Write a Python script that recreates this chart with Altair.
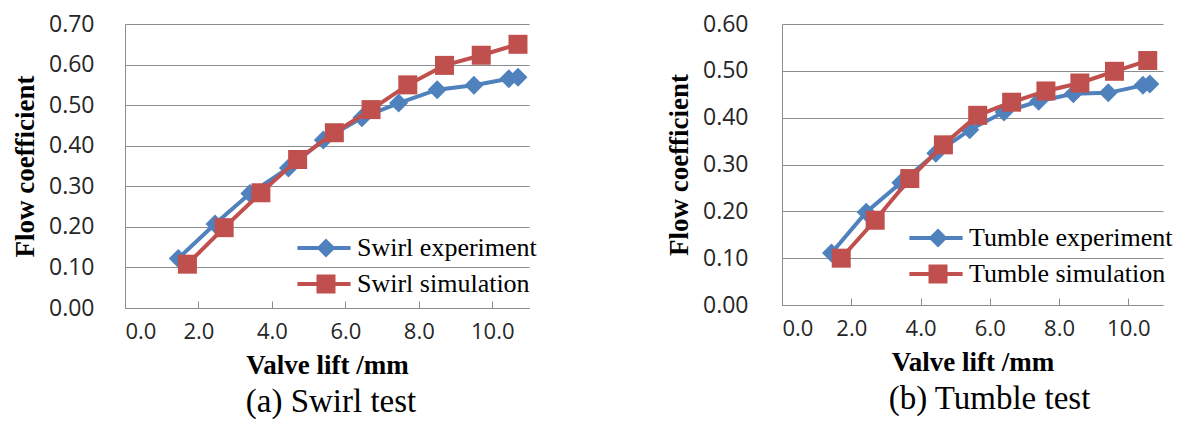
import altair as alt
import pandas as pd

# ---- data ----
swirl_names = ["Swirl experiment", "Swirl simulation"]
swirl_exp_x = [1.45, 2.45, 3.4, 4.45, 5.4, 6.45, 7.45, 8.5, 9.5, 10.45, 10.7]
swirl_exp_y = [0.122, 0.207, 0.282, 0.345, 0.414, 0.469, 0.505, 0.538, 0.549, 0.565, 0.569]
swirl_sim_x = [1.7, 2.7, 3.7, 4.7, 5.7, 6.7, 7.7, 8.7, 9.7, 10.7]
swirl_sim_y = [0.108, 0.198, 0.284, 0.366, 0.432, 0.489, 0.550, 0.598, 0.623, 0.650]

tumble_names = ["Tumble experiment", "Tumble simulation"]
tumble_exp_x = [1.43, 2.43, 3.43, 4.44, 5.42, 6.41, 7.41, 8.41, 9.42, 10.42, 10.62]
tumble_exp_y = [0.111, 0.198, 0.261, 0.324, 0.374, 0.412, 0.435, 0.451, 0.453, 0.469, 0.472]
tumble_sim_x = [1.71, 2.69, 3.69, 4.66, 5.65, 6.63, 7.62, 8.6, 9.6, 10.56]
tumble_sim_y = [0.100, 0.181, 0.270, 0.342, 0.405, 0.433, 0.457, 0.474, 0.499, 0.522]

x_ticks = [0, 2, 4, 6, 8, 10]
swirl_y_ticks = [0.0, 0.1, 0.2, 0.3, 0.4, 0.5, 0.6, 0.7]
tumble_y_ticks = [0.0, 0.1, 0.2, 0.3, 0.4, 0.5, 0.6]

BLUE = "#4F81BD"
RED = "#C0504D"
GRID = "#8C8C8C"
SANS = "Open Sans"
SERIF = "Liberation Serif"


def panel(names, ex, ey, sx, sy, yticks, w, h, caption, cap_dx, leg_x, leg_y, lab_pad):
    mnames = [n + " (marker)" for n in names]
    df = pd.DataFrame({
        "x": ex + sx,
        "y": ey + sy,
        "series": [names[0]] * len(ex) + [names[1]] * len(sx),
        "marker": [mnames[0]] * len(ex) + [mnames[1]] * len(sx),
    })

    xscale = alt.Scale(domain=[0, 11], nice=False, zero=False)
    yscale = alt.Scale(domain=[yticks[0], yticks[-1]], nice=False)

    yaxis = alt.Axis(values=yticks, format=".2f", grid=True, gridColor=GRID, gridWidth=1,
                     domain=True, domainColor=GRID, ticks=False, tickSize=0,
                     labelFont=SANS, labelFontSize=23, labelColor="#262626",
                     labelPadding=lab_pad, title="Flow coefficient", titleFont=SERIF,
                     titleFontSize=27, titleFontWeight="bold", titleColor="black",
                     titlePadding=9)
    xaxis_bottom = alt.Axis(values=x_ticks, format=".1f", grid=False, ticks=False, tickSize=0,
                            domain=True, domainColor=GRID, labelFont=SANS, labelFontSize=22,
                            labelColor="#262626", labelPadding=13,
                            title="Valve lift /mm", titleFont=SERIF, titleFontSize=27,
                            titleFontWeight="bold", titleColor="black", titlePadding=10)
    xaxis_top = alt.Axis(orient="top", offset=-h, values=x_ticks, labels=False, domain=False,
                         grid=False, ticks=True, tickSize=7, tickColor=GRID, tickWidth=1,
                         title=None)

    line_leg = alt.Legend(orient="none", legendX=leg_x, legendY=leg_y, title=None, padding=0,
                          symbolType="M-2.8,0H2.8", symbolSize=361, symbolStrokeWidth=4,
                          labelFont=SERIF, labelFontSize=26, labelColor="black",
                          labelOffset=20, rowPadding=10, labelLimit=400)
    mark_leg = alt.Legend(orient="none", legendX=leg_x + 2, legendY=leg_y, title=None, padding=0,
                          symbolSize=361, symbolStrokeWidth=0, symbolOpacity=1,
                          labelFont=SERIF, labelFontSize=26, labelExpr="''",
                          labelOffset=20, rowPadding=10, labelLimit=1)

    color = alt.Color("series:N", scale=alt.Scale(domain=names, range=[BLUE, RED]), legend=line_leg)
    shape = alt.Shape("marker:N", scale=alt.Scale(domain=mnames, range=["diamond", "square"]), legend=mark_leg)
    fill = alt.Fill("marker:N", scale=alt.Scale(domain=mnames, range=[BLUE, RED]), legend=mark_leg)
    y = alt.Y("y:Q", scale=yscale, axis=yaxis)

    base = alt.Chart(df)
    l1 = base.mark_line(strokeWidth=4).encode(
        x=alt.X("x:Q", scale=xscale, axis=xaxis_bottom), y=y, color=color
    ).transform_filter(alt.datum.series == names[0])
    l2 = base.mark_point(filled=True, size=361, opacity=1, strokeWidth=0).encode(
        x=alt.X("x:Q", scale=xscale, axis=None), y=y, shape=shape, fill=fill
    ).transform_filter(alt.datum.series == names[0])
    l3 = base.mark_line(strokeWidth=4).encode(
        x=alt.X("x:Q", scale=xscale, axis=None), y=y, color=color
    ).transform_filter(alt.datum.series == names[1])
    l4 = base.mark_point(filled=True, size=361, opacity=1, strokeWidth=0).encode(
        x=alt.X("x:Q", scale=xscale, axis=xaxis_top), y=y, shape=shape, fill=fill
    ).transform_filter(alt.datum.series == names[1])

    return alt.layer(l1, l2, l3, l4).resolve_axis(x="independent").properties(
        width=w, height=h,
        title=alt.TitleParams(caption, orient="bottom", font=SERIF, fontSize=33,
                              fontWeight="normal", color="black", frame="group",
                              anchor="middle", offset=8, dx=cap_dx),
    )


left = panel(swirl_names, swirl_exp_x, swirl_exp_y, swirl_sim_x, swirl_sim_y, swirl_y_ticks,
             404, 284, "(a) Swirl test", 4, 186, 211, 31)
right = panel(tumble_names, tumble_exp_x, tumble_exp_y, tumble_sim_x, tumble_sim_y, tumble_y_ticks,
              381, 281, "(b) Tumble test", 17, 141, 201, 34)

chart = alt.hconcat(left, right, spacing=128).resolve_scale(
    color="independent", shape="independent", fill="independent"
).resolve_legend(
    color="independent", shape="independent", fill="independent"
).configure_view(stroke=None).properties(
    padding={"left": 3, "top": 5, "right": 0, "bottom": 0}
)

chart.save("out.html", embed_options={"renderer": "svg", "actions": False})
